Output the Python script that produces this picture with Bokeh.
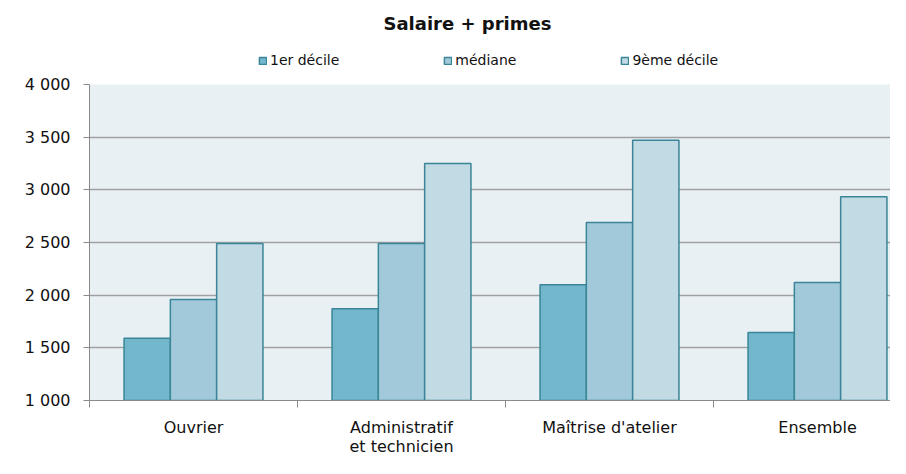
from bokeh.plotting import figure
from bokeh.layouts import column
from bokeh.models import (ColumnDataSource, FixedTicker, LinearAxis, Range1d,
                          Legend, LegendItem, Title)
from bokeh.embed import file_html
from bokeh.resources import INLINE

categories = ["Ouvrier", "Administratif\net technicien", "Maîtrise d'atelier", "Ensemble"]
series_names = ["1er décile", "médiane", "9ème décile"]
decile1 = [1590, 1870, 2100, 1645]
mediane = [1960, 2490, 2690, 2120]
decile9 = [2490, 3250, 3470, 2935]
y_ticks = [1000, 1500, 2000, 2500, 3000, 3500, 4000]
y_tick_labels = ["1 000", "1 500", "2 000", "2 500", "3 000", "3 500", "4 000"]

fills = ["#72b7cc", "#a2c9d9", "#c2dae4"]
outline = "#3a8597"
FONT = "DejaVu Sans"

W = 890
H_TOP, H_MAIN = 74, 384

centers = [i + 0.5 for i in range(len(categories))]
boundaries = list(range(len(categories)))
bw = 0.2226
offsets = [-bw, 0.0, bw]
sources = [ColumnDataSource(dict(x=[c + off for c in centers], top=vals))
           for vals, off in zip([decile1, mediane, decile9], offsets)]

# ---------- header: title + legend ----------
top = figure(width=W, height=H_TOP, output_backend="svg", toolbar_location=None,
             x_range=Range1d(10, 11), y_range=Range1d(0, 5000),
             x_axis_type=None, y_axis_type=None,
             min_border_left=0, min_border_right=0, min_border_top=35, min_border_bottom=0)
top.outline_line_color = None
top.background_fill_color = "white"
top.border_fill_color = "white"
top.xgrid.grid_line_color = None
top.ygrid.grid_line_color = None

top.title = Title(text="Salaire + primes", align="left")
top.title.text_font = FONT
top.title.text_font_size = "18px"
top.title.text_font_style = "bold"
top.title.text_color = "#111111"
top.title.offset = 294
top.title.standoff = 4

# same data, hidden in the header; only their legend entries are shown
legend_renderers = []
for src, col in zip(sources, fills):
    r = top.vbar(x="x", top="top", bottom=1000, width=bw, source=src,
                 fill_color=col, line_color=outline, line_width=1.5)
    r.visible = False
    legend_renderers.append(r)

legend = Legend(items=[LegendItem(label=n, renderers=[r])
                       for n, r in zip(series_names, legend_renderers)],
                orientation="horizontal", location=(169, 6))
legend.glyph_width = 9
legend.glyph_height = 9
legend.label_standoff = 3
legend.spacing = 104
legend.padding = 0
legend.margin = 0
legend.label_height = 12
legend.label_text_font = FONT
legend.label_text_font_size = "14px"
legend.label_text_color = "#111111"
legend.background_fill_alpha = 0
legend.border_line_color = None
legend.inactive_fill_alpha = 0
top.add_layout(legend, "center")

# ---------- main chart ----------
p = figure(width=W, height=H_MAIN, output_backend="svg", toolbar_location=None,
           x_range=Range1d(0, (W - 89) / 208), y_range=Range1d(1000, 4000),
           min_border_left=89, min_border_right=0, min_border_top=10,
           min_border_bottom=56, x_axis_type=None)
p.background_fill_color = "#e9f0f4"
p.border_fill_color = "white"
p.outline_line_color = None

for src, col in zip(sources, fills):
    p.vbar(x="x", top="top", bottom=1000, width=bw, source=src,
           fill_color=col, line_color=outline, line_width=1.5)

ya = p.yaxis[0]
ya.ticker = FixedTicker(ticks=y_ticks)
ya.major_label_overrides = {t: l for t, l in zip(y_ticks, y_tick_labels)}
ya.major_tick_out = 6
ya.major_tick_in = 0
ya.minor_tick_line_color = None
ya.axis_line_color = "#8a8a8a"
ya.major_tick_line_color = "#8a8a8a"
ya.major_label_text_font = FONT
ya.major_label_text_font_size = "16px"
ya.major_label_text_color = "#111111"
ya.major_label_standoff = 13

p.ygrid.ticker = FixedTicker(ticks=y_ticks)
p.ygrid.grid_line_color = "#a0a0a0"
p.ygrid.grid_line_width = 1.3
p.xgrid.grid_line_color = None

# category axis: labels at group centres, tick marks at group boundaries
xa = LinearAxis(ticker=FixedTicker(ticks=centers, minor_ticks=boundaries))
xa.major_label_overrides = {c: n for c, n in zip(centers, categories)}
xa.major_tick_line_color = None
xa.major_tick_out = 0
xa.major_tick_in = 0
xa.minor_tick_out = 7
xa.minor_tick_in = 0
xa.minor_tick_line_color = "#8a8a8a"
xa.axis_line_color = "#8a8a8a"
xa.major_label_text_font = FONT
xa.major_label_text_font_size = "16px"
xa.major_label_text_color = "#111111"
xa.major_label_standoff = 10
xa.major_label_text_line_height = 1.0
p.add_layout(xa, "below")

layout = column(top, p, spacing=0)
open("out.html", "w").write(file_html(layout, INLINE))
